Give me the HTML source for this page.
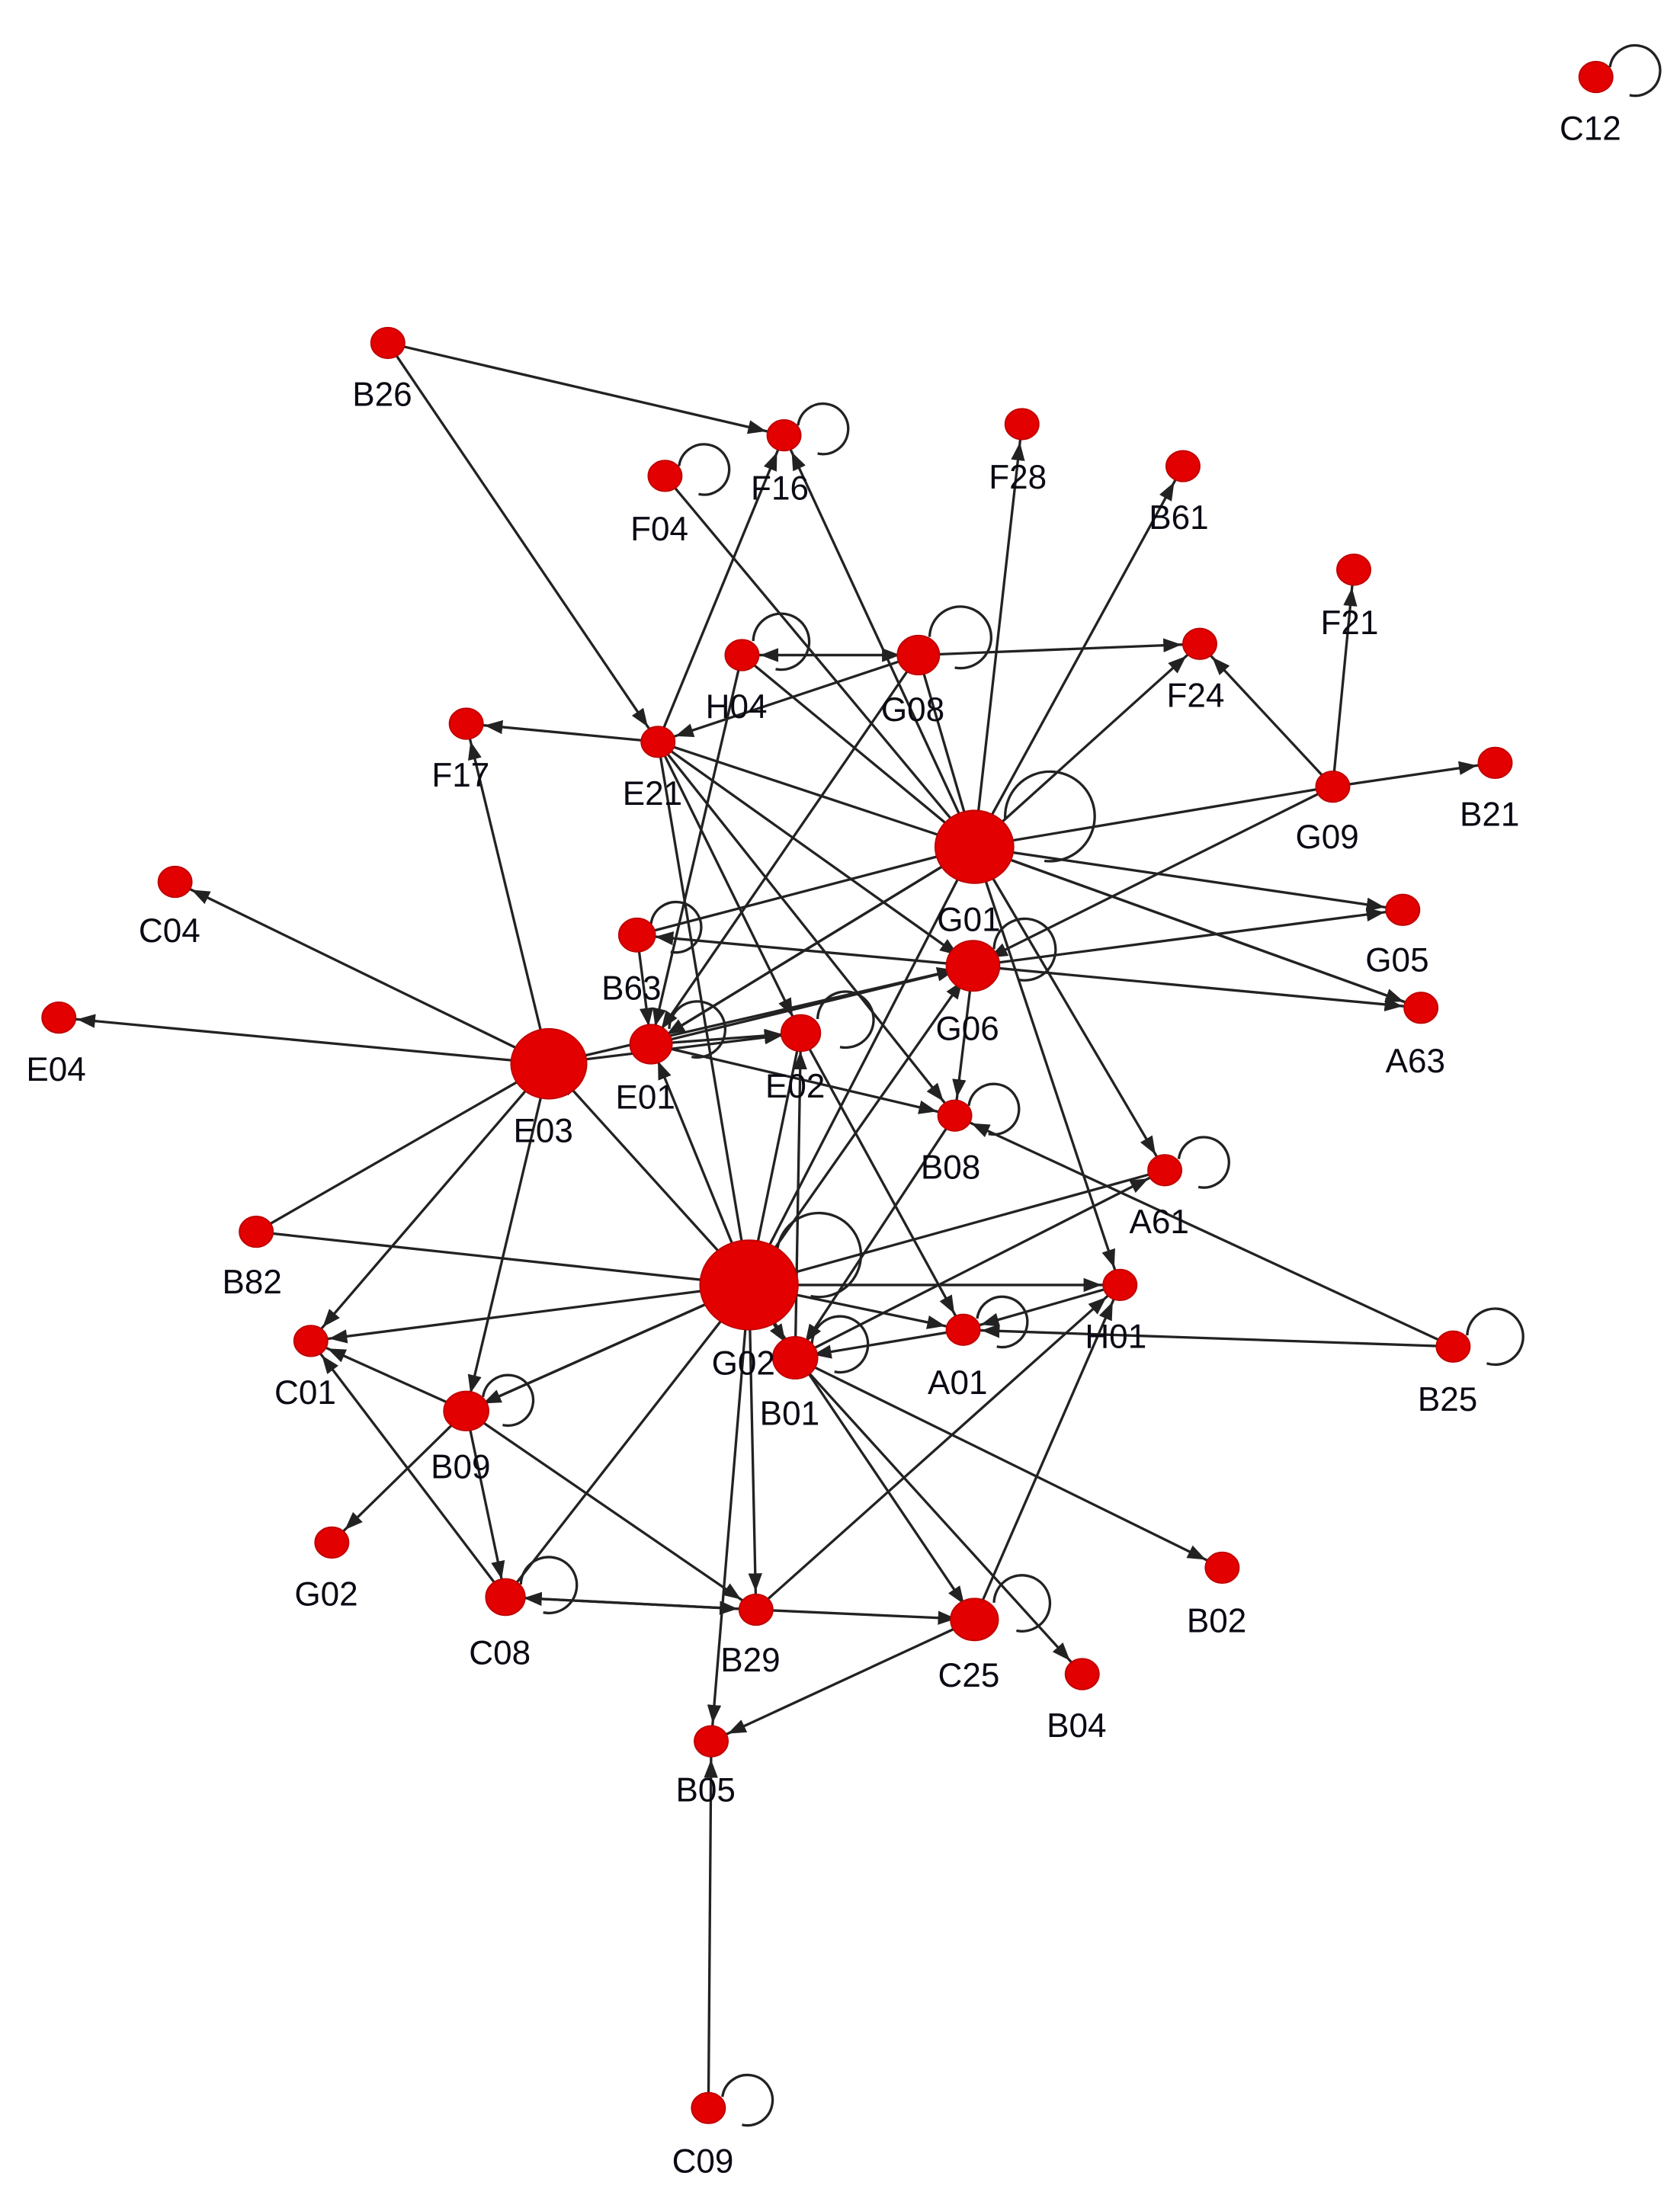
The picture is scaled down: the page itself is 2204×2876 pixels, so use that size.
<!DOCTYPE html>
<html><head><meta charset="utf-8"><style>
html,body{margin:0;padding:0;background:#fff;}
svg{display:block;}
text{font-family:"Liberation Sans",sans-serif;font-size:24px;fill:#0a0a14;text-anchor:middle;}
</style></head><body>
<svg width="2204" height="2876" viewBox="0 0 1200 1566" xmlns="http://www.w3.org/2000/svg">
<defs>
<marker id="a" markerUnits="userSpaceOnUse" markerWidth="14" markerHeight="10" refX="26" refY="5" orient="auto">
<path d="M0,0 L13,5 L0,10 z" fill="#222"/></marker>
</defs>
<g stroke="#222" stroke-width="1.8" fill="none" marker-end="url(#a)">
<line x1="277" y1="245" x2="560" y2="311"/>
<line x1="277" y1="245" x2="470" y2="530"/>
<line x1="475" y1="340" x2="696" y2="605"/>
<line x1="470" y1="530" x2="560" y2="311"/>
<line x1="696" y1="605" x2="560" y2="311"/>
<line x1="696" y1="605" x2="730" y2="303"/>
<line x1="696" y1="605" x2="845" y2="333"/>
<line x1="696" y1="605" x2="857" y2="460"/>
<line x1="656" y1="468" x2="857" y2="460"/>
<line x1="952" y1="562" x2="967" y2="407"/>
<line x1="952" y1="562" x2="1068" y2="545"/>
<line x1="952" y1="562" x2="696" y2="605"/>
<line x1="952" y1="562" x2="695" y2="690"/>
<line x1="530" y1="468" x2="656" y2="468"/>
<line x1="656" y1="468" x2="530" y2="468"/>
<line x1="656" y1="468" x2="696" y2="605"/>
<line x1="530" y1="468" x2="696" y2="605"/>
<line x1="470" y1="530" x2="333" y2="517"/>
<line x1="470" y1="530" x2="696" y2="605"/>
<line x1="470" y1="530" x2="695" y2="690"/>
<line x1="470" y1="530" x2="572" y2="738"/>
<line x1="470" y1="530" x2="682" y2="797"/>
<line x1="470" y1="530" x2="535" y2="918"/>
<line x1="696" y1="605" x2="1002" y2="650"/>
<line x1="696" y1="605" x2="1015" y2="720"/>
<line x1="1015" y1="720" x2="696" y2="605"/>
<line x1="696" y1="605" x2="832" y2="836"/>
<line x1="696" y1="605" x2="800" y2="918"/>
<line x1="695" y1="690" x2="682" y2="797"/>
<line x1="695" y1="690" x2="455" y2="668"/>
<line x1="695" y1="690" x2="1002" y2="650"/>
<line x1="695" y1="690" x2="1015" y2="720"/>
<line x1="455" y1="668" x2="696" y2="605"/>
<line x1="465" y1="746" x2="695" y2="690"/>
<line x1="465" y1="746" x2="696" y2="605"/>
<line x1="392" y1="760" x2="125" y2="630"/>
<line x1="392" y1="760" x2="42" y2="727"/>
<line x1="392" y1="760" x2="333" y2="517"/>
<line x1="392" y1="760" x2="572" y2="738"/>
<line x1="392" y1="760" x2="695" y2="690"/>
<line x1="392" y1="760" x2="222" y2="958"/>
<line x1="183" y1="880" x2="392" y2="760"/>
<line x1="183" y1="880" x2="535" y2="918"/>
<line x1="535" y1="918" x2="392" y2="760"/>
<line x1="535" y1="918" x2="222" y2="958"/>
<line x1="535" y1="918" x2="333" y2="1008"/>
<line x1="333" y1="1008" x2="222" y2="958"/>
<line x1="333" y1="1008" x2="237" y2="1102"/>
<line x1="333" y1="1008" x2="361" y2="1141"/>
<line x1="333" y1="1008" x2="540" y2="1150"/>
<line x1="333" y1="1008" x2="535" y2="918"/>
<line x1="361" y1="1141" x2="222" y2="958"/>
<line x1="361" y1="1141" x2="540" y2="1150"/>
<line x1="540" y1="1150" x2="361" y2="1141"/>
<line x1="361" y1="1141" x2="535" y2="918"/>
<line x1="535" y1="918" x2="540" y2="1150"/>
<line x1="535" y1="918" x2="508" y2="1244"/>
<line x1="535" y1="918" x2="696" y2="1157"/>
<line x1="535" y1="918" x2="800" y2="918"/>
<line x1="535" y1="918" x2="688" y2="950"/>
<line x1="535" y1="918" x2="695" y2="690"/>
<line x1="535" y1="918" x2="696" y2="605"/>
<line x1="535" y1="918" x2="465" y2="746"/>
<line x1="568" y1="970" x2="873" y2="1120"/>
<line x1="568" y1="970" x2="773" y2="1196"/>
<line x1="568" y1="970" x2="832" y2="836"/>
<line x1="568" y1="970" x2="572" y2="738"/>
<line x1="540" y1="1150" x2="800" y2="918"/>
<line x1="540" y1="1150" x2="696" y2="1157"/>
<line x1="696" y1="1157" x2="508" y2="1244"/>
<line x1="696" y1="1157" x2="800" y2="918"/>
<line x1="1038" y1="962" x2="688" y2="950"/>
<line x1="1038" y1="962" x2="682" y2="797"/>
<line x1="800" y1="918" x2="688" y2="950"/>
<line x1="506" y1="1506" x2="508" y2="1244"/>
<line x1="832" y1="836" x2="535" y2="918"/>
<line x1="572" y1="738" x2="535" y2="918"/>
<line x1="530" y1="468" x2="465" y2="746"/>
<line x1="656" y1="468" x2="465" y2="746"/>
<line x1="696" y1="605" x2="465" y2="746"/>
<line x1="682" y1="797" x2="568" y2="970"/>
<line x1="572" y1="738" x2="688" y2="950"/>
<line x1="465" y1="746" x2="682" y2="797"/>
<line x1="392" y1="760" x2="333" y2="1008"/>
<line x1="455" y1="668" x2="465" y2="746"/>
<line x1="465" y1="746" x2="572" y2="738"/>
<line x1="535" y1="918" x2="568" y2="970"/>
<line x1="688" y1="950" x2="568" y2="970"/>
<line x1="656" y1="468" x2="470" y2="530"/>
<line x1="952" y1="562" x2="857" y2="460"/>
</g>
<g stroke="#222" stroke-width="1.8" fill="none">
<path d="M1150,48 a18,18 0 1 1 14,20"/>
<path d="M570,304 a18,18 0 1 1 14,20"/>
<path d="M485,333 a18,18 0 1 1 14,20"/>
<path d="M664,455 a22,22 0 1 1 18,22"/>
<path d="M538,458 a20,20 0 1 1 16,20"/>
<path d="M718,585 a32,32 0 1 1 28,30"/>
<path d="M710,678 a22,22 0 1 1 18,22"/>
<path d="M465,660 a18,18 0 1 1 14,20"/>
<path d="M478,735 a20,20 0 1 1 16,20"/>
<path d="M584,728 a20,20 0 1 1 16,20"/>
<path d="M692,790 a18,18 0 1 1 14,20"/>
<path d="M842,828 a18,18 0 1 1 14,20"/>
<path d="M1048,954 a20,20 0 1 1 14,20"/>
<path d="M698,942 a18,18 0 1 1 14,20"/>
<path d="M580,960 a20,20 0 1 1 16,20"/>
<path d="M555,898 a30,30 0 1 1 24,28"/>
<path d="M710,1145 a20,20 0 1 1 16,20"/>
<path d="M372,1132 a20,20 0 1 1 16,20"/>
<path d="M345,998 a18,18 0 1 1 14,20"/>
<path d="M516,1498 a18,18 0 1 1 14,20"/>
</g>
<g fill="#e20000" stroke="#c00000" stroke-width="1">
<ellipse cx="1140" cy="55" rx="12" ry="11"/>
<ellipse cx="277" cy="245" rx="12" ry="11"/>
<ellipse cx="560" cy="311" rx="12" ry="11"/>
<ellipse cx="475" cy="340" rx="12" ry="11"/>
<ellipse cx="730" cy="303" rx="12" ry="11"/>
<ellipse cx="845" cy="333" rx="12" ry="11"/>
<ellipse cx="967" cy="407" rx="12" ry="11"/>
<ellipse cx="857" cy="460" rx="12" ry="11"/>
<ellipse cx="530" cy="468" rx="12" ry="11"/>
<ellipse cx="656" cy="468" rx="15" ry="14"/>
<ellipse cx="470" cy="530" rx="12" ry="11"/>
<ellipse cx="333" cy="517" rx="12" ry="11"/>
<ellipse cx="1068" cy="545" rx="12" ry="11"/>
<ellipse cx="952" cy="562" rx="12" ry="11"/>
<ellipse cx="696" cy="605" rx="28" ry="26"/>
<ellipse cx="125" cy="630" rx="12" ry="11"/>
<ellipse cx="1002" cy="650" rx="12" ry="11"/>
<ellipse cx="455" cy="668" rx="13" ry="12"/>
<ellipse cx="695" cy="690" rx="19" ry="18"/>
<ellipse cx="1015" cy="720" rx="12" ry="11"/>
<ellipse cx="42" cy="727" rx="12" ry="11"/>
<ellipse cx="392" cy="760" rx="27" ry="25"/>
<ellipse cx="465" cy="746" rx="15" ry="14"/>
<ellipse cx="572" cy="738" rx="14" ry="13"/>
<ellipse cx="682" cy="797" rx="12" ry="11"/>
<ellipse cx="832" cy="836" rx="12" ry="11"/>
<ellipse cx="183" cy="880" rx="12" ry="11"/>
<ellipse cx="535" cy="918" rx="35" ry="32"/>
<ellipse cx="800" cy="918" rx="12" ry="11"/>
<ellipse cx="688" cy="950" rx="12" ry="11"/>
<ellipse cx="568" cy="970" rx="16" ry="15"/>
<ellipse cx="1038" cy="962" rx="12" ry="11"/>
<ellipse cx="222" cy="958" rx="12" ry="11"/>
<ellipse cx="333" cy="1008" rx="16" ry="14"/>
<ellipse cx="237" cy="1102" rx="12" ry="11"/>
<ellipse cx="361" cy="1141" rx="14" ry="13"/>
<ellipse cx="540" cy="1150" rx="12" ry="11"/>
<ellipse cx="696" cy="1157" rx="17" ry="15"/>
<ellipse cx="873" cy="1120" rx="12" ry="11"/>
<ellipse cx="773" cy="1196" rx="12" ry="11"/>
<ellipse cx="508" cy="1244" rx="12" ry="11"/>
<ellipse cx="506" cy="1506" rx="12" ry="11"/>
</g>
<g>
<text x="1136" y="100">C12</text>
<text x="273" y="290">B26</text>
<text x="557" y="357">F16</text>
<text x="471" y="386">F04</text>
<text x="727" y="349">F28</text>
<text x="842" y="378">B61</text>
<text x="964" y="453">F21</text>
<text x="854" y="505">F24</text>
<text x="526" y="513">H04</text>
<text x="652" y="515">G08</text>
<text x="466" y="575">E21</text>
<text x="329" y="562">F17</text>
<text x="1064" y="590">B21</text>
<text x="948" y="606">G09</text>
<text x="692" y="665">G01</text>
<text x="121" y="673">C04</text>
<text x="998" y="694">G05</text>
<text x="451" y="714">B63</text>
<text x="691" y="743">G06</text>
<text x="1011" y="766">A63</text>
<text x="40" y="772">E04</text>
<text x="388" y="816">E03</text>
<text x="461" y="792">E01</text>
<text x="568" y="784">E02</text>
<text x="679" y="842">B08</text>
<text x="828" y="881">A61</text>
<text x="180" y="924">B82</text>
<text x="531" y="982">G02</text>
<text x="797" y="963">H01</text>
<text x="684" y="996">A01</text>
<text x="564" y="1018">B01</text>
<text x="1034" y="1008">B25</text>
<text x="218" y="1003">C01</text>
<text x="329" y="1056">B09</text>
<text x="233" y="1147">G02</text>
<text x="357" y="1189">C08</text>
<text x="536" y="1194">B29</text>
<text x="692" y="1205">C25</text>
<text x="869" y="1166">B02</text>
<text x="769" y="1241">B04</text>
<text x="504" y="1287">B05</text>
<text x="502" y="1552">C09</text>
</g>
</svg>
</body></html>
